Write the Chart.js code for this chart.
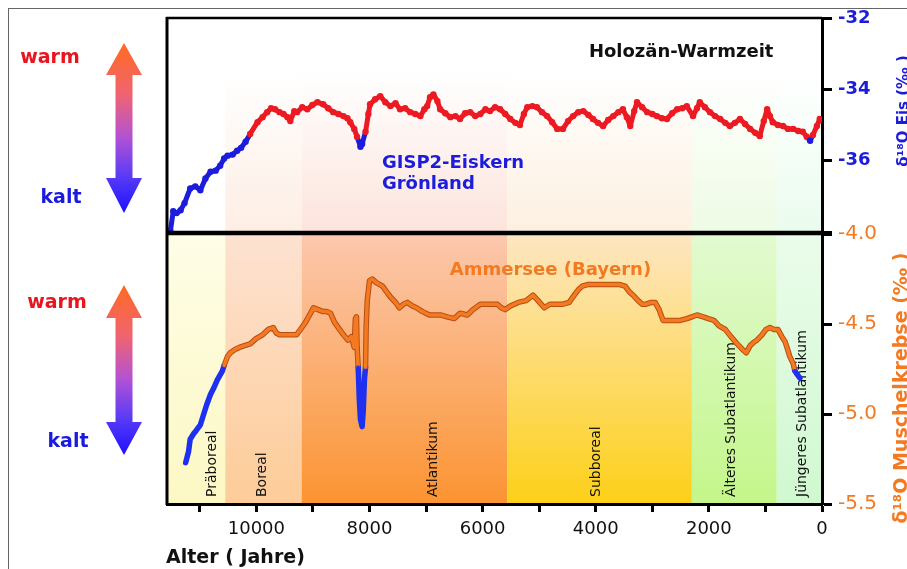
<!DOCTYPE html>
<html>
<head>
<meta charset="utf-8">
<script src="https://cdn.jsdelivr.net/npm/chart.js@4.4.1/dist/chart.umd.min.js"></script>
<style>
    body { margin: 0; background: #fff; }
    #wrap { position: relative; width: 907px; height: 569px; overflow: hidden; background: #fff; }
    #frame { position: absolute; left: 8px; top: 8px; width: 1000px; height: 1000px;
             border-left: 1.5px solid #666; border-top: 1.5px solid #666; }
    canvas { position: absolute; left: 0; }
    #topChart { top: 0; }
    #bottomChart { top: 220px; }
</style>
</head>
<body>
<div id="wrap">
    <div id="frame"></div>
    <canvas id="topChart" width="907" height="236"></canvas>
    <canvas id="bottomChart" width="907" height="349"></canvas>
</div>
<script>
// GISP2 Eiskern (Jahre vor heute, d18O in Promille)
const gispYears = [11520, 11470, 11410, 11340, 11270, 11170, 11080, 10990, 10900, 10810,
    10720, 10640, 10570, 10510, 10420, 10340, 10270, 10190, 10110, 9980,
    9890, 9810, 9740, 9670, 9590, 9520, 9450, 9400, 9330, 9280,
    9190, 9100, 9010, 8920, 8820, 8730, 8640, 8550, 8460, 8390,
    8340, 8270, 8220, 8160, 8130, 8070, 8020, 7990, 7900, 7810,
    7720, 7630, 7540, 7460, 7370, 7280, 7190, 7100, 7030, 6980,
    6930, 6870, 6800, 6750, 6660, 6570, 6480, 6400, 6310, 6220,
    6130, 6040, 5950, 5870, 5780, 5690, 5600, 5510, 5420, 5340,
    5270, 5210, 5120, 5040, 4950, 4860, 4770, 4680, 4580, 4490,
    4400, 4310, 4220, 4130, 4050, 3960, 3870, 3780, 3690, 3600,
    3520, 3450, 3390, 3320, 3270, 3180, 3090, 3000, 2920, 2830,
    2740, 2650, 2560, 2470, 2390, 2280, 2210, 2160, 2070, 1980,
    1890, 1800, 1710, 1630, 1540, 1450, 1360, 1270, 1180, 1100,
    1030, 970, 920, 870, 780, 690, 600, 510, 420, 340,
    270, 210, 160, 90, 40];
const gispValues = [-37.97, -37.42, -37.47, -37.39, -37.19, -36.78, -36.72, -36.83, -36.5, -36.31,
    -36.28, -36.14, -35.94, -35.86, -35.83, -35.72, -35.64, -35.47, -35.25, -34.92,
    -34.78, -34.64, -34.53, -34.56, -34.64, -34.69, -34.78, -34.89, -34.61, -34.64,
    -34.5, -34.56, -34.44, -34.36, -34.42, -34.53, -34.64, -34.69, -34.75, -34.81,
    -34.92, -35.11, -35.33, -35.61, -35.53, -35.19, -34.69, -34.42, -34.28, -34.19,
    -34.36, -34.47, -34.39, -34.56, -34.53, -34.64, -34.69, -34.75, -34.56, -34.47,
    -34.22, -34.14, -34.33, -34.56, -34.67, -34.78, -34.75, -34.83, -34.67, -34.64,
    -34.75, -34.69, -34.56, -34.61, -34.5, -34.56, -34.69, -34.83, -34.94, -35.0,
    -34.69, -34.5, -34.47, -34.5, -34.64, -34.75, -34.92, -35.11, -35.11, -34.89,
    -34.75, -34.64, -34.61, -34.72, -34.83, -34.94, -35.03, -34.86, -34.75, -34.64,
    -34.56, -34.78, -35.03, -34.61, -34.36, -34.5, -34.64, -34.69, -34.75, -34.81,
    -34.83, -34.67, -34.56, -34.53, -34.47, -34.75, -34.53, -34.36, -34.5, -34.64,
    -34.75, -34.83, -34.94, -35.03, -34.94, -34.83, -34.97, -35.11, -35.22, -35.31,
    -34.89, -34.56, -34.75, -34.92, -35.0, -35.03, -35.11, -35.11, -35.17, -35.19,
    -35.33, -35.44, -35.28, -35.03, -34.83];

// Ammersee Muschelkrebse
const ammerYears = [11250, 11200, 11170, 11110, 11060, 10990, 10940, 10880, 10810, 10760,
    10690, 10600, 10570, 10510, 10460, 10370, 10300, 10210, 10110, 10000,
    9890, 9790, 9700, 9650, 9590, 9440, 9290, 9220, 9130, 9060,
    8990, 8910, 8830, 8760, 8690, 8620, 8530, 8460, 8380, 8320,
    8270, 8250, 8230, 8220, 8200, 8180, 8160, 8130, 8110, 8090,
    8070, 8060, 8040, 8000, 7950, 7880, 7770, 7700, 7630, 7540,
    7470, 7400, 7330, 7240, 7170, 7070, 6940, 6840, 6730, 6630,
    6500, 6400, 6270, 6170, 6040, 5900, 5740, 5670, 5600, 5510,
    5370, 5230, 5110, 5020, 4910, 4810, 4680, 4580, 4470, 4380,
    4310, 4240, 4130, 4010, 3870, 3710, 3590, 3480, 3410, 3340,
    3250, 3180, 3110, 3020, 2950, 2880, 2810, 2690, 2510, 2390,
    2300, 2210, 2100, 2010, 1910, 1820, 1710, 1610, 1500, 1410,
    1340, 1270, 1200, 1150, 1060, 990, 920, 850, 780, 710,
    650, 620, 570, 510, 480, 440, 390];
const ammerValues = [-5.27, -5.21, -5.14, -5.11, -5.09, -5.06, -5.01, -4.95, -4.89, -4.86,
    -4.81, -4.76, -4.73, -4.68, -4.66, -4.64, -4.63, -4.62, -4.61, -4.58,
    -4.56, -4.53, -4.52, -4.55, -4.56, -4.56, -4.56, -4.53, -4.49, -4.45,
    -4.41, -4.42, -4.43, -4.43, -4.44, -4.49, -4.53, -4.56, -4.59, -4.57,
    -4.63, -4.47, -4.46, -4.62, -4.74, -4.92, -5.03, -5.07, -4.98, -4.81,
    -4.74, -4.53, -4.37, -4.26, -4.25, -4.27, -4.29, -4.32, -4.35, -4.38,
    -4.41, -4.39, -4.38, -4.40, -4.41, -4.43, -4.45, -4.45, -4.45, -4.46,
    -4.47, -4.44, -4.45, -4.42, -4.39, -4.39, -4.39, -4.41, -4.42, -4.40,
    -4.38, -4.37, -4.34, -4.37, -4.41, -4.39, -4.39, -4.39, -4.38, -4.34,
    -4.31, -4.29, -4.28, -4.28, -4.28, -4.28, -4.28, -4.29, -4.32, -4.34,
    -4.37, -4.39, -4.39, -4.38, -4.38, -4.42, -4.48, -4.48, -4.48, -4.47,
    -4.46, -4.45, -4.46, -4.47, -4.48, -4.51, -4.53, -4.57, -4.61, -4.64,
    -4.66, -4.62, -4.60, -4.59, -4.56, -4.53, -4.52, -4.53, -4.53, -4.57,
    -4.60, -4.63, -4.68, -4.72, -4.76, -4.78, -4.80];

// Achsen
const xTicks = [11000, 10000, 9000, 8000, 7000, 6000, 5000, 4000, 3000, 2000, 1000, 0];
const xTickLabels = [10000, 8000, 6000, 4000, 2000, 0];
const topTicks = [-32, -34, -36, -38];
const bottomTicks = [-4.0, -4.5, -5.0, -5.5];

// Klimaperioden
const bandNames = ['Präboreal', 'Boreal', 'Atlantikum', 'Subboreal', 'Älteres Subatlantikum', 'Jüngeres Subatlantikum'];
const bandEdges = [11580, 10550, 9200, 5560, 2300, 800, 0];
const bandLabelYears = [10780, 9890, 6870, 3990, 1610, 350];

const gispCold = -35.35;
const ammerCold = -4.74;

const RED = '#ec1a22';
const BLUE = '#1c1cdc';
const BLUE2 = '#1e30f0';
const ORANGE = '#f47a22';
const ORANGE_DARK = '#b84c12';
const FONT = 'DejaVu Sans';

Chart.defaults.font.family = FONT;

const topPanelTints = ['#ffffff', '#fdeee4', '#fce4dc', '#fdf0e0', '#eefbe4', '#eafcee'];
const bottomTop = ['#fefde6', '#fde2d2', '#fcc8ae', '#fde6c2', '#e2fad0', '#eafcea'];
const bottomBottom = ['#fcf8c4', '#fdcc98', '#fb9432', '#fdd018', '#c4f68a', '#d0f8d0'];

function drawBands(chart, tops, bottoms, whiteUntil) {
    const { ctx, chartArea: a, scales: { x } } = chart;
    ctx.save();
    for (let i = 0; i < bandNames.length; i++) {
        const x0 = x.getPixelForValue(bandEdges[i]);
        const x1 = x.getPixelForValue(bandEdges[i + 1]);
        const g = ctx.createLinearGradient(0, a.top, 0, a.bottom);
        g.addColorStop(0, tops[i]);
        g.addColorStop(whiteUntil, tops[i]);
        g.addColorStop(1, bottoms[i]);
        ctx.fillStyle = g;
        ctx.fillRect(x0, a.top, x1 - x0, a.bottom - a.top);
    }
    ctx.restore();
}

function drawArrow(ctx, x, tipTop, headTop, headBot, tipBot) {
    const hw = 18, sw = 8.5;
    const g = ctx.createLinearGradient(0, tipTop, 0, tipBot);
    g.addColorStop(0, '#ff6a22');
    g.addColorStop(0.3, '#f06470');
    g.addColorStop(0.55, '#b452d2');
    g.addColorStop(0.78, '#5a3cf6');
    g.addColorStop(1, '#1e10ff');
    ctx.save();
    ctx.fillStyle = g;
    ctx.beginPath();
    ctx.moveTo(x, tipTop);
    ctx.lineTo(x + hw, headTop);
    ctx.lineTo(x + sw, headTop);
    ctx.lineTo(x + sw, headBot);
    ctx.lineTo(x + hw, headBot);
    ctx.lineTo(x, tipBot);
    ctx.lineTo(x - hw, headBot);
    ctx.lineTo(x - sw, headBot);
    ctx.lineTo(x - sw, headTop);
    ctx.lineTo(x - hw, headTop);
    ctx.closePath();
    ctx.fill();
    ctx.restore();
}

function label(ctx, str, x, y, font, color, align, rotate) {
    ctx.save();
    ctx.font = font;
    ctx.fillStyle = color;
    ctx.textAlign = align || 'center';
    ctx.textBaseline = 'middle';
    ctx.translate(x, y);
    if (rotate) ctx.rotate(-Math.PI / 2);
    ctx.fillText(str, 0, 0);
    ctx.restore();
}

function frameLines(chart, top, bottom) {
    const { ctx, chartArea: a } = chart;
    ctx.save();
    ctx.strokeStyle = '#000';
    ctx.lineWidth = 3;
    ctx.beginPath();
    ctx.moveTo(a.left, a.top - 1);
    ctx.lineTo(a.left, a.bottom + 1);
    ctx.stroke();
    ctx.lineWidth = 2.5;
    if (top) {
        ctx.beginPath();
        ctx.moveTo(a.left - 1, a.top);
        ctx.lineTo(a.right, a.top);
        ctx.stroke();
    }
    if (bottom) {
        ctx.beginPath();
        ctx.moveTo(a.left - 1, a.bottom);
        ctx.lineTo(a.right, a.bottom);
        ctx.stroke();
    }
    ctx.restore();
}

function points(years, values) {
    return years.map((yr, i) => ({ x: yr, y: values[i] }));
}

// Randabstände der Beschriftung nicht ins Layout einrechnen
function noPad(s) {
    s.paddingTop = 0;
    s.paddingBottom = 0;
    s.paddingLeft = 0;
    s.paddingRight = 0;
}

function xScale(display) {
    return {
        type: 'linear', reverse: true, min: 0, max: 11580, display: display,
        afterBuildTicks: s => { s.ticks = xTicks.map(v => ({ value: v })); },
        afterFit: s => { s.height = display ? 65 : 0; noPad(s); },
        ticks: {
            autoSkip: false, maxRotation: 0, color: '#111', padding: 7,
            font: { size: 18 },
            callback: v => xTickLabels.includes(v) ? String(v) : ''
        },
        grid: { drawOnChartArea: false, tickLength: 8, tickColor: '#000', tickWidth: 3 },
        border: { color: '#000', width: 3 }
    };
}

// obere Grafik: Grönland
const topPlugin = {
    id: 'topDecor',
    beforeDraw(chart) {
        drawBands(chart, topPanelTints.map(() => '#ffffff'), topPanelTints, 0.25);
    },
    afterDraw(chart) {
        const { ctx, scales: { x, y } } = chart;
        frameLines(chart, true, true);
        drawArrow(ctx, 124, 43, 75, 178, 213);
        label(ctx, 'warm', 50, 58, 'bold 19px ' + FONT, '#e8141e');
        label(ctx, 'kalt', 61, 198, 'bold 19px ' + FONT, '#1a1ae0');
        label(ctx, 'Holozän-Warmzeit', x.getPixelForValue(2490), y.getPixelForValue(-32.97), 'bold 18px ' + FONT, '#111');
        label(ctx, 'GISP2-Eiskern', x.getPixelForValue(7780), y.getPixelForValue(-36.08), 'bold 18px ' + FONT, BLUE, 'left');
        label(ctx, 'Grönland', x.getPixelForValue(7780), y.getPixelForValue(-36.67), 'bold 18px ' + FONT, BLUE, 'left');
        label(ctx, 'δ¹⁸O Eis (‰ )', 904, 111, 'bold 15px ' + FONT, BLUE, 'center', true);
    }
};

new Chart(document.getElementById('topChart'), {
    type: 'line',
    data: {
        datasets: [{
            data: points(gispYears, gispValues),
            borderColor: RED,
            borderWidth: 5,
            borderJoinStyle: 'round',
            borderCapStyle: 'round',
            pointRadius: 3.2,
            pointBorderWidth: 0,
            pointBackgroundColor: c => (c.raw && c.raw.y < gispCold) ? BLUE : RED,
            segment: {
                borderColor: c => (c.p0.parsed.y + c.p1.parsed.y) / 2 < gispCold ? BLUE : RED
            },
            tension: 0
        }]
    },
    options: {
        responsive: false,
        animation: false,
        layout: { padding: { left: 167, top: 18, right: 0, bottom: 2 } },
        plugins: { legend: { display: false }, tooltip: { enabled: false } },
        scales: {
            x: xScale(false),
            y: {
                position: 'right', min: -38, max: -32,
                afterBuildTicks: s => { s.ticks = topTicks.map(v => ({ value: v })); },
                afterFit: s => { s.width = 85; noPad(s); },
                ticks: {
                    color: BLUE, padding: 6,
                    font: { size: 18, weight: 'bold' },
                    callback: v => v === -38 ? '' : String(v)
                },
                grid: { drawOnChartArea: false, tickLength: 10, tickColor: '#000', tickWidth: 3 },
                border: { color: '#000', width: 3 }
            }
        }
    },
    plugins: [topPlugin]
});

// untere Grafik: Ammersee
const bottomPlugin = {
    id: 'bottomDecor',
    beforeDraw(chart) {
        drawBands(chart, bottomTop, bottomBottom, 0);
    },
    beforeDatasetsDraw(chart) {
        const { ctx, chartArea: a, scales: { x } } = chart;
        bandNames.forEach((name, i) => {
            label(ctx, name, x.getPixelForValue(bandLabelYears[i]), a.bottom - 7, '14px ' + FONT, '#111', 'left', true);
        });
    },
    afterDraw(chart) {
        const { ctx, scales: { x, y } } = chart;
        frameLines(chart, true, false);
        drawArrow(ctx, 124, 65, 98, 202, 235);
        label(ctx, 'warm', 57, 83, 'bold 19px ' + FONT, '#e8141e');
        label(ctx, 'kalt', 68, 222, 'bold 19px ' + FONT, '#1a1ae0');
        label(ctx, 'Ammersee (Bayern)', x.getPixelForValue(4800), y.getPixelForValue(-4.2), 'bold 18px ' + FONT, ORANGE);
        label(ctx, 'δ¹⁸O Muschelkrebse (‰ )', 902, 168, 'bold 19px ' + FONT, ORANGE, 'center', true);
        label(ctx, 'Alter ( Jahre)', 166, 338, 'bold 19px ' + FONT, '#111', 'left');
    }
};

const ammerData = points(ammerYears, ammerValues);

new Chart(document.getElementById('bottomChart'), {
    type: 'line',
    data: {
        datasets: [{
            // Umriss (unten gezeichnet)
            data: ammerData,
            order: 2,
            borderWidth: 5.5,
            borderJoinStyle: 'round',
            borderCapStyle: 'round',
            pointRadius: 0,
            borderColor: ORANGE_DARK,
            segment: {
                borderColor: c => (c.p0.parsed.y + c.p1.parsed.y) / 2 < ammerCold ? BLUE2 : ORANGE_DARK
            },
            tension: 0
        }, {
            data: ammerData,
            order: 1,
            borderWidth: 3.5,
            borderJoinStyle: 'round',
            borderCapStyle: 'round',
            pointRadius: 0,
            borderColor: ORANGE,
            segment: {
                borderColor: c => (c.p0.parsed.y + c.p1.parsed.y) / 2 < ammerCold ? BLUE2 : ORANGE
            },
            tension: 0
        }]
    },
    options: {
        responsive: false,
        animation: false,
        layout: { padding: { left: 167, top: 14, right: 0, bottom: 0 } },
        plugins: { legend: { display: false }, tooltip: { enabled: false } },
        scales: {
            x: xScale(true),
            y: {
                position: 'right', min: -5.5, max: -4.0,
                afterBuildTicks: s => { s.ticks = bottomTicks.map(v => ({ value: v })); },
                afterFit: s => { s.width = 85; noPad(s); },
                ticks: {
                    color: ORANGE, padding: 6,
                    font: { size: 20 },
                    callback: v => v.toFixed(1)
                },
                grid: { drawOnChartArea: false, tickLength: 10, tickColor: '#000', tickWidth: 3 },
                border: { color: '#000', width: 3 }
            }
        }
    },
    plugins: [bottomPlugin]
});
</script>
</body>
</html>
